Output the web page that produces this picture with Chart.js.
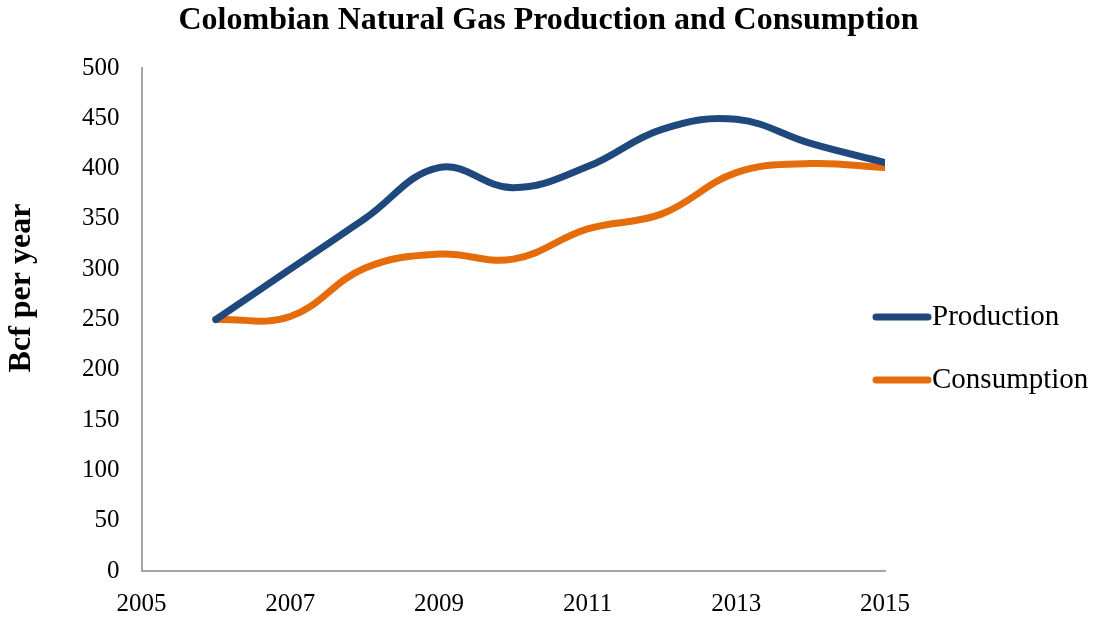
<!DOCTYPE html>
<html>
<head>
<meta charset="utf-8">
<script src="https://cdn.jsdelivr.net/npm/chart.js@4.4.0/dist/chart.umd.min.js"></script>
<style>
  html, body { margin: 0; padding: 0; background: #fff; }
  #wrap { width: 1097px; height: 617px; }
</style>
</head>
<body>
<div id="wrap"><canvas id="gasChart"></canvas></div>
<script>
// Datos (Bcf por año)
var years = [2006, 2007, 2008, 2009, 2010, 2011, 2012, 2013, 2014, 2015];
var production = [250, 300, 350, 401, 381, 402, 439, 449, 425, 406];
var consumption = [250, 253, 301, 315, 310, 340, 355, 396, 405, 401];
var yTicks = [0, 50, 100, 150, 200, 250, 300, 350, 400, 450, 500];
var xTicks = [2005, 2007, 2009, 2011, 2013, 2015];

var chartTitle = 'Colombian Natural Gas Production and Consumption';
var yTitle = 'Bcf per year';

function toPoints(values) {
  return years.map(function(y, i) { return { x: y, y: values[i] }; });
}

var serif = "'Liberation Serif', 'Times New Roman', serif";

// Titulo, eje Y y leyenda dibujados a mano (como en Excel, la leyenda se solapa)
var excelLabels = {
  id: 'excelLabels',
  afterDraw: function(chart) {
    var c = chart.ctx;
    c.save();
    c.fillStyle = '#000';
    c.textBaseline = 'middle';

    // titulo centrado en todo el ancho
    c.font = 'bold 32px ' + serif;
    c.textAlign = 'center';
    c.fillText(chartTitle, chart.width / 2, 21);

    // titulo del eje Y
    c.save();
    c.translate(22, 288);
    c.rotate(-Math.PI / 2);
    c.fillText(yTitle, 0, 0);
    c.restore();

    // leyenda
    var x0 = 876, top = 317, gap = 63;
    c.font = '29px ' + serif;
    c.textAlign = 'left';
    chart.data.datasets.forEach(function(ds, i) {
      var y = top + i * gap;
      c.strokeStyle = ds.borderColor;
      c.lineWidth = 7;
      c.lineCap = 'round';
      c.beginPath();
      c.moveTo(x0, y);
      c.lineTo(x0 + 52, y);
      c.stroke();
      c.fillText(ds.label, x0 + 56, y);
    });
    c.restore();
  }
};

var ctx = document.getElementById('gasChart').getContext('2d');
var myChart = new Chart(ctx, {
  type: 'line',
  data: {
    datasets: [{
      label: 'Production',
      data: toPoints(production),
      borderColor: '#1f497d',
      backgroundColor: '#1f497d',
      borderWidth: 7,
      borderCapStyle: 'round',
      pointRadius: 0,
      tension: 0.4
    }, {
      label: 'Consumption',
      data: toPoints(consumption),
      borderColor: '#e46c0a',
      backgroundColor: '#e46c0a',
      borderWidth: 7,
      borderCapStyle: 'round',
      pointRadius: 0,
      tension: 0.4
    }]
  },
  options: {
    responsive: true,
    maintainAspectRatio: false,
    animation: false,
    layout: { padding: { left: 68, right: 212, top: 68, bottom: -12 } },
    plugins: {
      title: { display: false },
      legend: { display: false },
      tooltip: { enabled: false }
    },
    scales: {
      x: {
        type: 'linear',
        min: 2005,
        max: 2015,
        afterBuildTicks: function(axis) {
          axis.ticks = xTicks.map(function(v) { return { value: v }; });
        },
        grid: { display: false },
        border: { display: true, color: '#a6a6a6', width: 2 },
        ticks: {
          color: '#000',
          font: { family: serif, size: 25 },
          padding: 10,
          maxRotation: 0,
          callback: function(v) { return String(v); }
        }
      },
      y: {
        min: 0,
        max: 500,
        afterBuildTicks: function(axis) {
          axis.ticks = yTicks.map(function(v) { return { value: v }; });
        },
        grid: { display: false },
        border: { display: true, color: '#a6a6a6', width: 2 },
        ticks: {
          color: '#000',
          font: { family: serif, size: 25 },
          padding: 14
        }
      }
    }
  },
  plugins: [excelLabels]
});
</script>
</body>
</html>
